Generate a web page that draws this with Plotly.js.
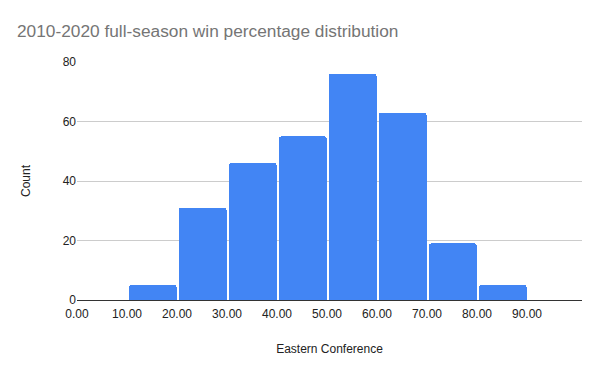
<!DOCTYPE html>
<html>
<head>
<meta charset="utf-8">
<script src="https://cdn.plot.ly/plotly-3.0.1.min.js"></script>
<style>html,body{margin:0;padding:0;background:#fff;}#chart{width:600px;height:371px;}</style>
</head>
<body>
<div id="chart"></div>
<script>
// Bin centers (win percentage bins of width 10)
const binCenters = [15, 25, 35, 45, 55, 65, 75, 85];
const counts = [5, 31, 46, 55, 76, 63, 19, 5];
const xTickVals = [0, 10, 20, 30, 40, 50, 60, 70, 80, 90];
const xTickText = ["0.00", "10.00", "20.00", "30.00", "40.00", "50.00", "60.00", "70.00", "80.00", "90.00"];
const yTickVals = [0, 20, 40, 60, 80];

const font = "Liberation Sans, Arial, sans-serif";

const trace = {
  type: "bar",
  x: binCenters,
  y: counts,
  width: binCenters.map(() => 9.5),
  offset: binCenters.map(() => -4.6),
  marker: { color: "#4285f4", cornerradius: 2, line: { width: 0 } },
  hoverinfo: "x+y"
};

const layout = {
  width: 600,
  height: 371,
  margin: { l: 77, r: 18, t: 62, b: 71 },
  paper_bgcolor: "#fff",
  plot_bgcolor: "#fff",
  font: { family: font, size: 12, color: "#222" },
  title: {
    text: "2010-2020 full-season win percentage distribution",
    font: { family: font, size: 17.3, color: "#757575" },
    x: 17 / 600, xref: "container", xanchor: "left",
    y: 1 - 31 / 371, yref: "container", yanchor: "middle",
    pad: { t: 0, l: 0, r: 0, b: 0 }
  },
  showlegend: false,
  bargap: 0,
  xaxis: {
    range: [0, 101],
    tickvals: xTickVals,
    ticktext: xTickText,
    showgrid: false,
    zeroline: false,
    showline: true,
    linecolor: "#333",
    linewidth: 1,
    ticks: "",
    ticklabelstandoff: 3,
    tickfont: { family: font, size: 12, color: "#222" },
    title: { text: "Eastern Conference", font: { family: font, size: 12, color: "#222" }, standoff: 24 },
    automargin: false,
    fixedrange: true
  },
  yaxis: {
    range: [0, 80],
    tickvals: yTickVals,
    showgrid: true,
    gridcolor: "#cccccc",
    gridwidth: 1,
    zeroline: false,
    showline: false,
    ticks: "",
    tickfont: { family: font, size: 12, color: "#222" },
    title: { text: "Count", font: { family: font, size: 12, color: "#222" }, standoff: 29 },
    automargin: false,
    fixedrange: true
  }
};

Plotly.newPlot("chart", [trace], layout, { displayModeBar: false, staticPlot: true });
</script>
</body>
</html>
